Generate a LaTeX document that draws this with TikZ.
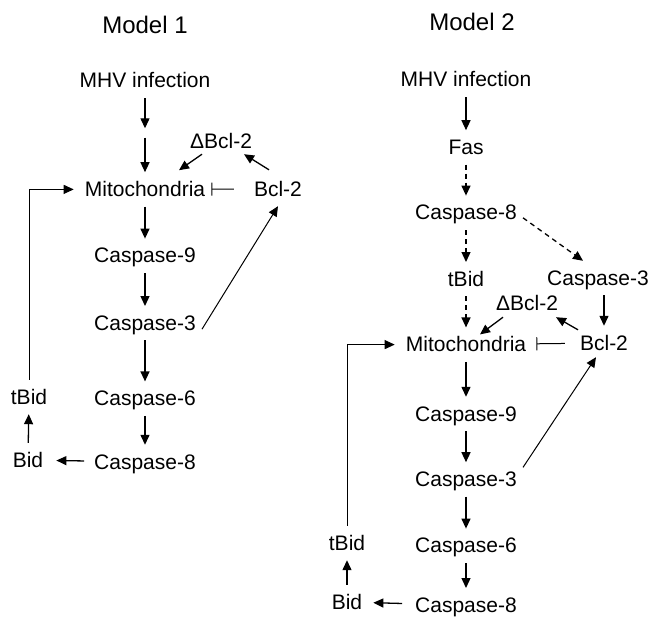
\documentclass[tikz,border=0pt]{standalone}
\usepackage{fontspec}
\setmainfont{Liberation Sans}
\usetikzlibrary{positioning, arrows.meta}
\tikzstyle{title} = [inner sep=0pt, font=\fontsize{24pt}{28pt}\selectfont]
\tikzstyle{entity} = [inner xsep=6pt, inner ysep=9pt, text height=15pt, text depth=1pt, font=\fontsize{21pt}{24pt}\selectfont]
\tikzstyle{gap} = [inner sep=0pt, minimum size=9pt]
\tikzstyle{arrow} = [line width=1.3pt, -{Triangle[length=10pt, width=9pt]}]
\tikzstyle{dasharrow} = [arrow, dash pattern=on 5pt off 4pt]
\tikzstyle{link} = [line width=1pt, -{Triangle[length=10pt, width=9pt]}]
\tikzstyle{inhibit} = [line width=1pt, -{Bar[width=13pt, line width=1pt]}]

\begin{document}
\begin{tikzpicture}[x=1pt, y=-1pt]
  \useasboundingbox (0,0) rectangle (651,618);

  % Model 1 (left column)
  \node (t1) [title] at (145,25) {Model 1};
  \node (m1mhv) [entity] at (145,81) {MHV infection};
  \node (m1mid) [gap] at (145,133) {};
  \node (m1mito) [entity, below=74pt of m1mhv] {Mitochondria};
  \node (m1c9) [entity, below=32pt of m1mito] {Caspase-9};
  \node (m1c3) [entity, below=33pt of m1c9] {Caspase-3};
  \node (m1c6) [entity, below=41pt of m1c3] {Caspase-6};
  \node (m1c8) [entity, below=29pt of m1c6] {Caspase-8};
  \node (m1dbcl) [entity] at (221,141) {ΔBcl-2};
  \node (m1bcl) [entity] at (278,189) {Bcl-2};
  \node (m1bid) [entity] at (28,460) {Bid};
  \node (m1tbid) [entity] at (29,397) {tBid};

  % Model 2 (right column)
  \node (t2) [title] at (472,22) {Model 2};
  \node (m2mhv) [entity] at (466,80) {MHV infection};
  \node (m2fas) [entity, below=33pt of m2mhv] {Fas};
  \node (m2c8) [entity, below=31pt of m2fas] {Caspase-8};
  \node (m2tbid) [entity, below=32pt of m2c8] {tBid};
  \node (m2mito) [entity, below=31pt of m2tbid] {Mitochondria};
  \node (m2c9) [entity, below=35pt of m2mito] {Caspase-9};
  \node (m2c3) [entity, below=31pt of m2c9] {Caspase-3};
  \node (m2c6) [entity, below=32pt of m2c3] {Caspase-6};
  \node (m2c8b) [entity, below=25pt of m2c6] {Caspase-8};
  \node (m2c3b) [entity] at (598,278) {Caspase-3};
  \node (m2dbcl) [entity] at (527,303) {ΔBcl-2};
  \node (m2bcl) [entity] at (604,343) {Bcl-2};
  \node (m2bid) [entity] at (347,602) {Bid};
  \node (m2tbidb) [entity] at (347,543) {tBid};

  % Arrows - model 1
  \draw[arrow] (m1mhv) -- (m1mid);
  \draw[arrow] (m1mid) -- (m1mito);
  \draw[arrow] (m1mito) -- (m1c9);
  \draw[arrow] (m1c9) -- (m1c3);
  \draw[arrow] (m1c3) -- (m1c6);
  \draw[arrow] (m1c6) -- (m1c8);
  \draw[arrow, shorten <=4pt, shorten >=7pt] (m1c8) -- (m1bid);
  \draw[arrow] (m1bid) -- (m1tbid);
  \draw[link, shorten >=5pt] (m1tbid) |- (m1mito);
  \draw[inhibit, shorten <=14pt] (m1bcl) -- (m1mito);
  \draw[arrow] ([xshift=-9pt, yshift=2pt]m1bcl.north) -- ([xshift=23pt, yshift=4pt]m1dbcl.south);
  \draw[arrow] ([xshift=-19pt, yshift=4pt]m1dbcl.south) -- ([xshift=34pt, yshift=2pt]m1mito.north);
  \draw[link] ([yshift=-6pt]m1c3.east) -- (m1bcl.south);

  % Arrows - model 2
  \draw[arrow] (m2mhv) -- (m2fas);
  \draw[dasharrow] (m2fas) -- (m2c8);
  \draw[dasharrow] (m2c8) -- (m2tbid);
  \draw[dasharrow] (m2tbid) -- (m2mito);
  \draw[dasharrow] ([yshift=-5pt]m2c8.east) -- ([xshift=-15pt]m2c3b.north);
  \draw[arrow] (m2bcl.north |- m2c3b.south) -- (m2bcl.north);
  \draw[arrow] ([xshift=-26pt, yshift=-4pt]m2bcl.north) -- ([xshift=29pt, yshift=3pt]m2dbcl.south);
  \draw[arrow] ([xshift=-24pt, yshift=3pt]m2dbcl.south) -- ([xshift=14pt, yshift=-7pt]m2mito.north);
  \draw[inhibit, shorten <=9pt, shorten >=4pt] (m2bcl) -- (m2mito);
  \draw[arrow] (m2mito) -- (m2c9);
  \draw[arrow] (m2c9) -- (m2c3);
  \draw[arrow] (m2c3) -- (m2c6);
  \draw[arrow] (m2c6) -- (m2c8b);
  \draw[arrow, shorten <=7pt, shorten >=5pt] (m2c8b) -- (m2bid);
  \draw[arrow] (m2bid) -- (m2tbidb);
  \draw[link, shorten >=5pt] (m2tbidb) |- (m2mito);
  \draw[link] ([yshift=12pt]m2c3.east) -- ([xshift=-8pt, yshift=3pt]m2bcl.south);

\end{tikzpicture}
\end{document}
